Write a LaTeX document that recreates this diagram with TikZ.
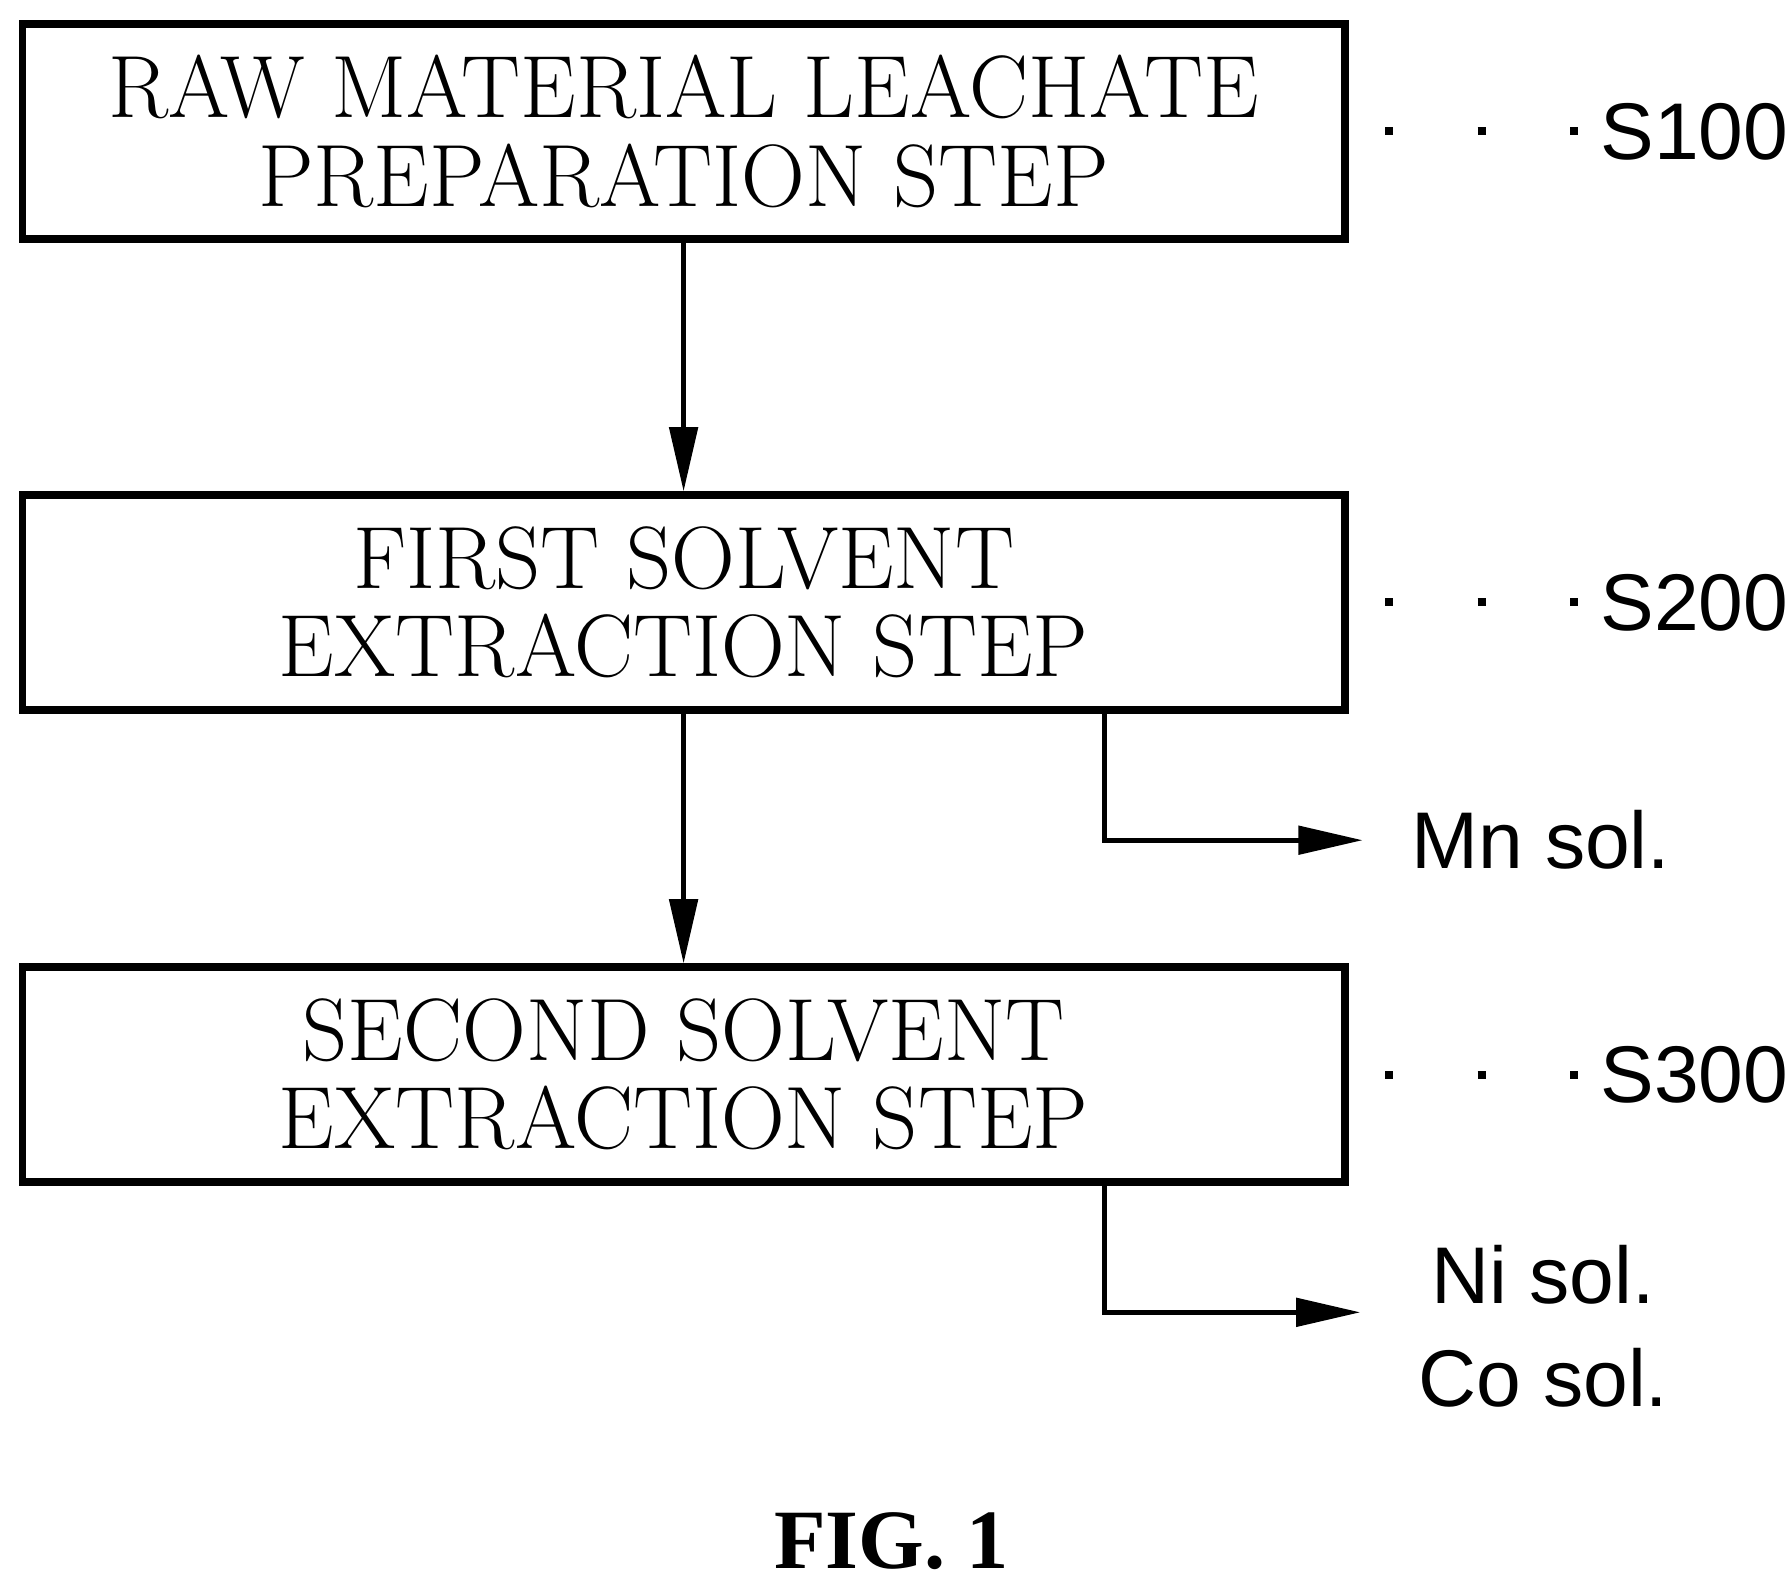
\documentclass[tikz,border=0pt]{standalone}
\usepackage{fontspec}
\newfontfamily\labelfont{Liberation Sans}
\newfontfamily\figfont{Liberation Serif}
\usetikzlibrary{arrows.meta}
\begin{document}
\begin{tikzpicture}[x=0.01cm,y=-0.01cm,>/.tip={Triangle[length=16pt,width=7pt]},
    stepbox/.style={draw,line width=1.8pt,minimum width=1157*0.01cm,minimum height=188*0.01cm,
      align=center,font=\fontsize{22}{22}\selectfont},
    tag/.style={font=\labelfont\fontsize{20}{25.5}\selectfont,align=center},
    flow/.style={line width=1.2pt,->}]
    \useasboundingbox (0,0) rectangle (1565,1384);
    % The steps
    \node[stepbox] (s1) at (598,115) {RAW MATERIAL LEACHATE\\PREPARATION STEP};
    \node[stepbox] (s2) at (598,527) {FIRST SOLVENT\\EXTRACTION STEP};
    \node[stepbox] (s3) at (598,940) {SECOND SOLVENT\\EXTRACTION STEP};
    \draw[flow] (s1) -- (s2);
    \draw[flow] (s2) -- (s3);
    % The step labels
    \foreach \s/\n in {s1/S100,s2/S200,s3/S300}{
      \node[tag,anchor=west] (t\n) at ([xshift=208*0.01cm]\s.east) {\n};
      \draw[line width=2pt,dash pattern=on 2pt off 21pt] ([xshift=32*0.01cm]\s.east) -- (t\n.west);
    }
    % The outputs
    \node[tag,anchor=west] (mn) at (1222,735) {Mn sol.};
    \node[tag] (nico) at (1350,1160) {Ni sol.\\Co sol.};
    \coordinate (b2) at (966,622);
    \coordinate (b3) at (966,1033);
    \draw[flow] (b2) |- ([xshift=-30*0.01cm]mn.west);
    \draw[flow] (b3) |- (1190,1148);
    \node[font=\figfont\bfseries\fontsize{21}{26}\selectfont] (fig) at (780,1348) {FIG. 1};
\end{tikzpicture}
\end{document}
